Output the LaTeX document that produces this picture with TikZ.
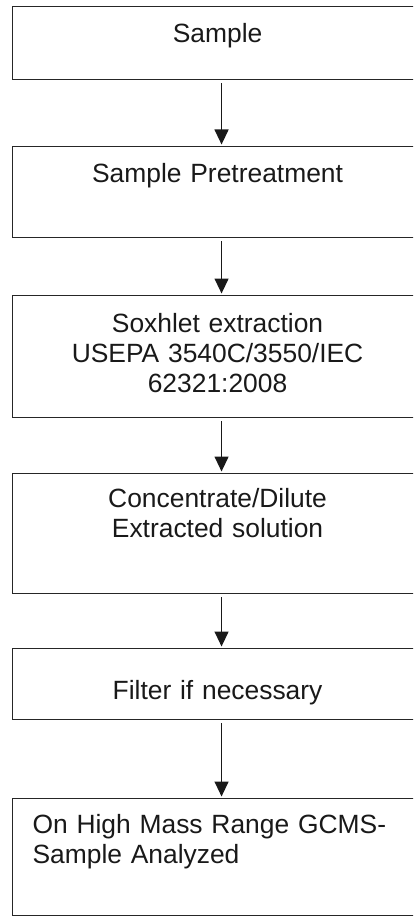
\documentclass[tikz,border=0pt]{standalone}
\usepackage{fontspec}
\setmainfont{Liberation Sans}
\usepackage{tikz}
\usetikzlibrary{positioning,arrows.meta}

\begin{document}
\begin{tikzpicture}[x=1pt, y=1pt,
    stepbox/.style={draw=black!85, line width=1.1pt, anchor=north west, inner xsep=0pt, inner ysep=0pt,
        text width=410pt, align=center, font=\fontsize{26.4}{30}\selectfont, text=black!90},
    flow/.style={-{Triangle[width=14pt, length=15pt]}, line width=1.3pt, draw=black!90,
        shorten <=3pt, shorten >=1.5pt}]
    \useasboundingbox (0,0) rectangle (413,-917);
    \clip (0,0) rectangle (413,-917);

    % Boxes
    \node[stepbox, text height=36pt, text depth=37pt] (sample) at (12,-6) {Sample};
    \node[stepbox, text height=36pt, text depth=55pt] (pretreat) at (12,-146) {Sample Pretreatment};
    \node[stepbox, text height=37pt, text depth=85pt] (soxhlet) at (12,-295)
        {Soxhlet extraction\\USEPA 3540C/3550/IEC\\62321:2008};
    \node[stepbox, text height=34pt, text depth=86pt] (conc) at (12,-473)
        {Concentrate/Dilute\\Extracted solution};
    \node[stepbox, text height=51pt, text depth=20pt] (filter) at (12,-648) {Filter if necessary};
    \node[stepbox, text height=35pt, text depth=82pt, align=left, inner xsep=20pt, text width=370pt] (gcms) at (12,-798)
        {On High Mass Range GCMS-\\Sample Analyzed};

    % Arrows
    \draw[flow] ([xshift=4pt]sample.south) -- ([xshift=4pt]pretreat.north);
    \draw[flow] ([xshift=4pt]pretreat.south) -- ([xshift=4pt]soxhlet.north);
    \draw[flow] ([xshift=4pt]soxhlet.south) -- ([xshift=4pt]conc.north);
    \draw[flow] ([xshift=4pt]conc.south) -- ([xshift=4pt]filter.north);
    \draw[flow] ([xshift=4pt]filter.south) -- ([xshift=4pt]gcms.north -| sample.south);
\end{tikzpicture}
\end{document}
